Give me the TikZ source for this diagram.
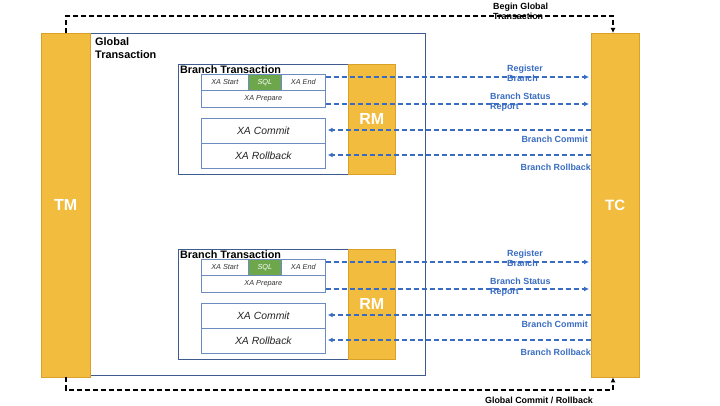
\documentclass[tikz,border=0pt]{standalone}
\usepackage{fontspec}
\setmainfont{Liberation Sans}
\usetikzlibrary{arrows.meta,calc}
\definecolor{orng}{HTML}{F2BC3E}
\definecolor{orngd}{HTML}{D9A02A}
\definecolor{navy}{HTML}{3F5C8E}
\definecolor{boxb}{HTML}{6C8BC0}
\definecolor{grn}{HTML}{6EA64C}
\definecolor{blu}{HTML}{3A6DC2}
\tikzset{
  bar/.style={fill=orng,draw=orngd,line width=0.4pt,text=white,font=\bfseries\fontsize{15}{15}\selectfont},
  frame/.style={draw=navy,line width=0.8pt},
  cell/.style={draw=boxb,line width=0.7pt,fill=white},
  small/.style={font=\itshape\fontsize{7.3}{8}\selectfont,text=black!80},
  big/.style={font=\itshape\fontsize{10.4}{12}\selectfont,text=black!85},
  barrow/.style={draw=blu,line width=1.4pt,dash pattern=on 5pt off 3pt,-{Latex[length=5pt,width=5pt]},shorten >=2pt},
  blab/.style={text=blu,font=\bfseries\fontsize{8.9}{10}\selectfont,inner sep=0pt,align=left},
  garrow/.style={draw=black,line width=1.4pt,dash pattern=on 5pt off 3pt,-{Latex[length=5pt,width=5pt]}},
  glab/.style={text=black,font=\bfseries\fontsize{8.9}{10}\selectfont,inner sep=0pt,align=left},
}
\begin{document}
\begin{tikzpicture}[x=1pt,y=-1pt]
\useasboundingbox[fill=white] (0,0) rectangle (720,406);
% global transaction frame
\node[frame,minimum width=335pt,minimum height=342pt,anchor=north west,inner sep=0pt] (gt) at (90,33) {};
\node[anchor=north west,inner sep=0pt,align=left,font=\bfseries\fontsize{10.9}{13}\selectfont] (gtl) at (95,37) {Global\\Transaction};
% TM and TC
\node[bar,minimum width=49pt,minimum height=344pt,anchor=north west,inner sep=0pt,font=\bfseries\fontsize{16}{16}\selectfont] (tm) at (41,33) {TM};
\node[bar,minimum width=48pt,minimum height=344pt,anchor=north west,inner sep=0pt] (tc) at (591,33) {TC};
\foreach \dy/\n in {0/a,185/b}{
  \node[frame,minimum width=170pt,minimum height=110pt,anchor=north west,inner sep=0pt] (bt\n) at (178,64+\dy) {};
  \node[anchor=north west,inner sep=0pt,font=\bfseries\fontsize{10.8}{11}\selectfont] (btl\n) at (180,65+\dy) {Branch Transaction};
  \node[bar,minimum width=47pt,minimum height=110pt,anchor=north west,inner sep=0pt,font=\bfseries\fontsize{16}{16}\selectfont] (rm\n) at (348,64+\dy) {RM};
  % top cell group
  \node[cell,minimum width=47pt,minimum height=16pt,anchor=north west,inner sep=0pt,small] (xs\n) at (201,74+\dy) {XA Start};
  \node[cell,fill=grn,minimum width=33pt,minimum height=16pt,anchor=north west,inner sep=0pt,small,text=white] (sql\n) at (248,74+\dy) {SQL};
  \node[cell,minimum width=44pt,minimum height=16pt,anchor=north west,inner sep=0pt,small] (xe\n) at (281,74+\dy) {XA End};
  \node[cell,minimum width=124pt,minimum height=17pt,anchor=north west,inner sep=0pt,small] (xp\n) at (201,90+\dy) {XA Prepare};
  % commit/rollback
  \node[cell,minimum width=124pt,minimum height=25pt,anchor=north west,inner sep=0pt,big] (xc\n) at (201,118+\dy) {XA Commit};
  \node[cell,minimum width=124pt,minimum height=25pt,anchor=north west,inner sep=0pt,big] (xr\n) at (201,143+\dy) {XA Rollback};
  % arrows
  \draw[barrow] (xe\n.east |- 0,77+\dy) -- (tc.west |- 0,77+\dy);
  \draw[barrow] (xp\n.east |- 0,104+\dy) -- (tc.west |- 0,104+\dy);
  \draw[barrow] (tc.west |- 0,130+\dy) -- (xc\n.east |- 0,130+\dy);
  \draw[barrow] (tc.west |- 0,155+\dy) -- (xr\n.east |- 0,155+\dy);
  \node[blab,anchor=north west] (l1\n) at (507,65+\dy) {Register\\Branch};
  \node[blab,anchor=north west] (l2\n) at (490,93+\dy) {Branch Status\\Report};
  \node[blab,anchor=north east] (l3\n) at (588,136+\dy) {Branch Commit};
  \node[blab,anchor=north east] (l4\n) at (591,164+\dy) {Branch Rollback};
}
% global arrows
\coordinate (t1) at (66,16);
\coordinate (t2) at (613,16);
\draw[garrow] (tm.north -| t1) -- (t1) -- (t2) -- (tc.north -| t2);
\coordinate (b1) at (66,390);
\coordinate (b2) at (613,390);
\draw[garrow] (tm.south -| b1) -- (b1) -- (b2) -- (tc.south -| b2);
\node[glab,anchor=north west] (gl1) at (493,3) {Begin Global\\Transaction};
\node[glab,anchor=north] (gl2) at (539,397) {Global Commit / Rollback};
\end{tikzpicture}
\end{document}
